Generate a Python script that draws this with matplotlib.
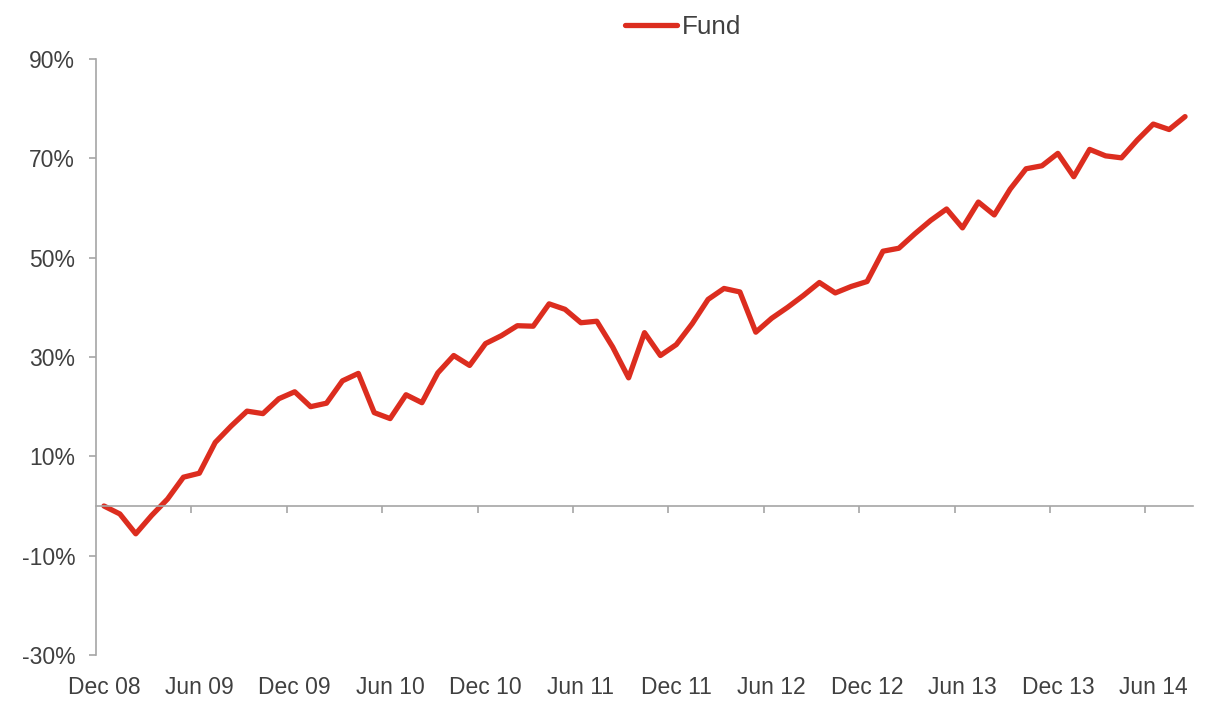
import matplotlib.pyplot as plt
import numpy as np

# monthly fund return since Dec 08 (%)
fund = [0.0, -1.6, -5.6, -1.9, 1.4, 5.8, 6.6, 12.8, 16.1, 19.1,
        18.6, 21.6, 23.0, 20.0, 20.7, 25.2, 26.7, 18.8, 17.6, 22.4,
        20.8, 26.8, 30.3, 28.3, 32.7, 34.3, 36.3, 36.2, 40.7, 39.6,
        36.9, 37.2, 32.0, 25.8, 34.9, 30.3, 32.5, 36.7, 41.6, 43.8,
        43.1, 35.0, 37.8, 40.0, 42.4, 45.0, 42.9, 44.2, 45.2, 51.3,
        51.9, 54.8, 57.5, 59.8, 56.0, 61.2, 58.6, 63.8, 67.9, 68.5,
        71.0, 66.3, 71.8, 70.5, 70.1, 73.7, 76.9, 75.8, 78.4]
tick_labels = ['Dec 08', 'Jun 09', 'Dec 09', 'Jun 10', 'Dec 10', 'Jun 11',
               'Dec 11', 'Jun 12', 'Dec 12', 'Jun 13', 'Dec 13', 'Jun 14']
y_ticks = [-30, -10, 10, 30, 50, 70, 90]

plt.rcParams['font.family'] = ['Liberation Sans', 'DejaVu Sans']
text_col = '#404040'
axis_col = '#A6A6A6'
fs = 16.5

fig = plt.figure(figsize=(12.21, 7.01), dpi=100)
ax = fig.add_axes([96 / 1221, 1 - 655 / 701, (1193 - 96) / 1221, (655 - 59) / 701])

x = np.arange(len(fund))
ax.plot(x, fund, color='#DC2D1F', lw=3.8, solid_joinstyle='round',
        solid_capstyle='round', label='Fund')

ax.set_xlim(-0.5, len(fund) - 0.5)
ax.set_ylim(-30, 90)

for s in ['top', 'right']:
    ax.spines[s].set_visible(False)
ax.spines['left'].set_color(axis_col)
ax.spines['left'].set_linewidth(1.2)
ax.spines['bottom'].set_position(('data', 0))
ax.spines['bottom'].set_color(axis_col)
ax.spines['bottom'].set_linewidth(1.2)

ax.set_yticks(y_ticks)
ax.set_yticklabels(['%d%%' % v for v in y_ticks])
ax.tick_params(axis='y', direction='out', length=5, width=1.2, color=axis_col,
               labelsize=fs, labelcolor=text_col, pad=10)

# tick marks on the zero line sit between categories
ax.set_xticks(np.arange(5.5, len(fund), 6))
ax.set_xticklabels([])
ax.tick_params(axis='x', direction='out', length=5, width=1.2, color=axis_col)

# category labels along the bottom of the plot area
sec = ax.secondary_xaxis('bottom')
sec.spines['bottom'].set_visible(False)
sec.set_xticks(np.arange(0, len(fund), 6))
sec.set_xticklabels(tick_labels)
sec.tick_params(axis='x', length=0, labelsize=fs, labelcolor=text_col, pad=15)

fig.legend(loc='center', bbox_to_anchor=(683 / 1221, 1 - 27 / 701), frameon=False,
           fontsize=18.8, handlelength=2.0, handletextpad=0.2, borderpad=0,
           labelcolor=text_col)

fig.savefig('out.png', dpi=100)
